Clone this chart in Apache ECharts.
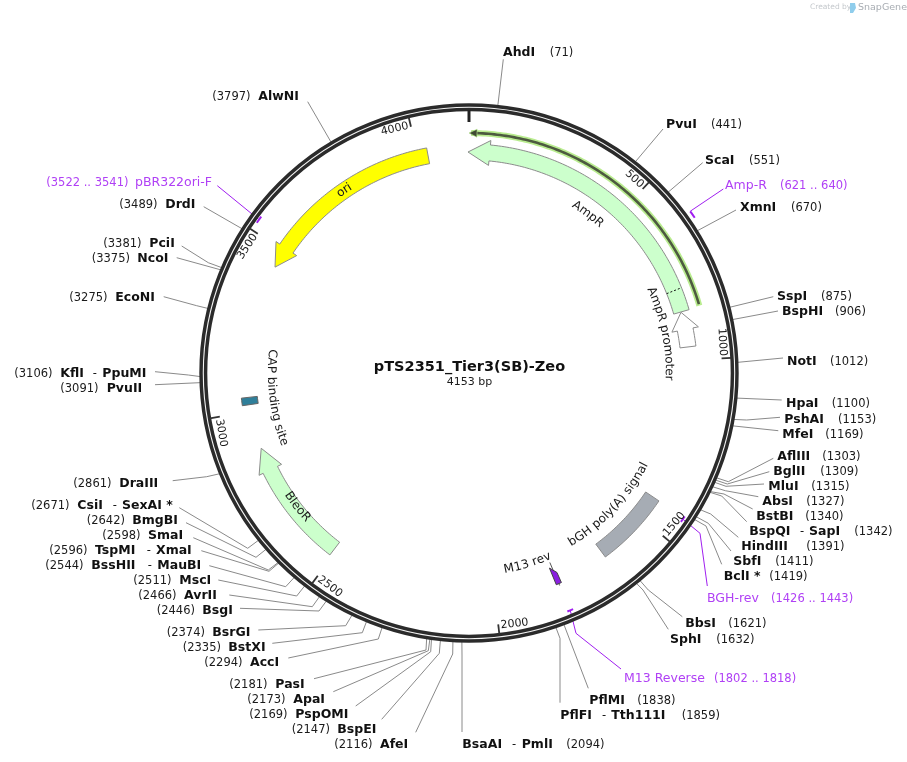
<!DOCTYPE html>
<html lang="en">
<head>
<meta charset="UTF-8">
<title>pTS2351_Tier3(SB)-Zeo</title>
<script src="https://cdn.jsdelivr.net/npm/echarts@6/dist/echarts.min.js"></script>
<style>html,body{margin:0;padding:0;background:#fff}</style>
</head>
<body>
<div id="map" style="width:907px;height:762px"></div>
<script>
const plasmidName = 'pTS2351_Tier3(SB)-Zeo';
const plasmidLength = 4153;
const tickPositions = [500, 1000, 1500, 2000, 2500, 3000, 3500, 4000];

// restriction sites
const siteNames = ['AhdI','PvuI','ScaI','XmnI','SspI','BspHI','NotI','HpaI','PshAI','MfeI','AflIII','BglII','MluI','AbsI','BstBI','BspQI','HindIII','SbfI','BclI *','BbsI','SphI','PflMI','PflFI','BsaAI','AfeI','BspEI','PspOMI','ApaI','PasI','AccI','BstXI','BsrGI','BsgI','AvrII','MscI','BssHII','TspMI','SmaI','BmgBI','CsiI','DraIII','PvuII','KflI','EcoNI','NcoI','PciI','DrdI','AlwNI'];
const sitePositions = [71,441,551,670,875,906,1012,1100,1153,1169,1303,1309,1315,1327,1340,1342,1391,1411,1419,1621,1632,1838,1859,2094,2116,2147,2169,2173,2181,2294,2335,2374,2446,2466,2511,2544,2596,2598,2642,2671,2861,3091,3106,3275,3375,3381,3489,3797];
const siteSecondNames = {BspQI:'SapI', PflFI:'Tth111I', BsaAI:'PmlI', BssHII:'MauBI', TspMI:'XmaI', CsiI:'SexAI *', KflI:'PpuMI'};

// primers
const primerNames = ['Amp-R','BGH-rev','M13 Reverse','pBR322ori-F'];
const primerStarts = [621,1426,1802,3522];
const primerEnds = [640,1443,1818,3541];

// directional features: tip is the arrow point, tail the far end
const arrowNames = ['AmpR','ori','BleoR'];
const arrowTips = [-3,3445,2885];
const arrowTails = [853,4030,2508];
const arrowHeads = [62,3510,2815];

const promoterTip = 854, promoterHead = 907, promoterTail = 960;
const orfTip = 0, orfTail = 850;
const ampDivider = 786;
const capSite = [3020,3042];
const polyASignal = [1430,1655];
const m13Rev = [1802,1818];

// label layout in pixels: nameX, numberX, y, leader end, optional elbow
const siteLayout = {
  'AhdI':[503,549.7,52,503.3,59.3],
  'PvuI':[666,711,124,663,129],
  'ScaI':[705,749,160,702.7,162.7],
  'XmnI':[740,791,207,736,210],
  'SspI':[777,821,296,773.3,296.7],
  'BspHI':[782,835,311,778,311],
  'NotI':[787,830,361,783,358],
  'HpaI':[786,831.7,403,781.7,400],
  'PshAI':[784.3,838,419,780,417.3,746.7,420],
  'MfeI':[782.3,825.3,434,778.3,430.7],
  'AflIII':[777.3,822.3,456,773.3,458.3,728.3,481.7],
  'BglII':[773.3,820.3,471,769.3,471.7,727.3,484],
  'MluI':[768.3,811.3,486,764,484,726,486.3],
  'AbsI':[762.3,806.3,501,758.3,496.7,725.3,490.7],
  'BstBI':[756.3,805.3,516,752.7,509,724,494],
  'BspQI':[749.3,854.3,531,746.7,521.7,721.7,496],
  'HindIII':[741.3,806.3,546,738.3,537.3,710.7,514],
  'SbfI':[733.3,775.3,561,731,551,708.3,523.3],
  'BclI *':[723.7,769.3,576,721.7,564.3,706,526],
  'BbsI':[685.3,728.3,623,682.3,616.7,648.3,590],
  'SphI':[670,716.3,639,668.3,629.3,643,590],
  'PflMI':[589.3,637.3,700,588.3,688.3],
  'PflFI':[560.3,681.7,715,560,702.7,560,638.3],
  'BsaAI':[462.3,566.3,744,462,732,462,655],
  'AfeI':[380,334.3,744,415.7,732.3,452.7,654],
  'BspEI':[337.3,291.7,729,381.7,719.3,439.3,653.3],
  'PspOMI':[295.3,249.3,714,355.7,706,430.7,651.7],
  'ApaI':[293.3,247.3,699,333.3,691.7,428.3,650.7],
  'PasI':[275.3,229.3,684,314,678.7,426,650],
  'AccI':[250,204.3,662,288.3,658,378.3,639],
  'BstXI':[228.3,182.7,647,272.3,643.3,362.3,632.7],
  'BsrGI':[212.3,166.7,632,258.3,630,345.7,625.7],
  'BsgI':[202.3,156.7,610,240,608.3,319,611],
  'AvrII':[184,138.3,595,229.3,595,312.3,606.7],
  'MscI':[179.3,133.3,580,218.3,580,296.7,596],
  'BssHII':[91.3,45.3,565,209.3,565.7,285.7,586.7],
  'TspMI':[95,49.3,550,201.3,550.7,269,571.3],
  'SmaI':[148,102.3,535,193.3,537.7,268.3,570],
  'BmgBI':[132.3,86.7,520,186,522.7,256,557.3],
  'CsiI':[77.3,31.3,505,179.3,507.7,247.7,548.3],
  'DraIII':[119.3,73.3,483,172.7,480.7,206.7,476.7],
  'PvuII':[106.7,60.3,388,155,384.7],
  'KflI':[60.3,14.3,373,155,371.7,188.3,375],
  'EcoNI':[115.3,69.3,297,163.7,296.7,196.7,305.7],
  'NcoI':[137.3,91.7,258,176.7,257.7],
  'PciI':[149.3,103.3,243,181.7,246,208.3,262.7],
  'DrdI':[165.3,119.3,204,203.7,206.7],
  'AlwNI':[258.3,212.3,96,307.7,101.7]
};
// dashX, secondNameX for the double names
const secondLayout = {BspQI:[800,809], PflFI:[602,611.3], BsaAI:[512,521.7], BssHII:[147.7,157.3], TspMI:[146.7,156], CsiI:[112.7,122], KflI:[92.7,102.3]};
// nameX, numberX, y, then leader points from the mark outwards
const primerLayout = {
  'Amp-R':[725,780,185,[[723.3,189]]],
  'BGH-rev':[707,771,598,[[700,533.3],[707.3,586]]],
  'M13 Reverse':[624,714,678,[[576,633.3],[621,669]]],
  'pBR322ori-F':[135,46.3,182,[[217.3,185.7]]]
};
const primerRadius = {'Amp-R':274,'BGH-rev':259,'M13 Reverse':258,'pBR322ori-F':260};

const FONT = '"DejaVu Sans"';
const INK = '#1a1a1a', LEADER = '#8a8a8a', PURPLE = '#a01ff0', PURPLE_TEXT = '#b040f5';
const FEATURE_EDGE = '#8c8c8c';
const R_MID = 221, R_BODY = 8, R_HEAD = 12.5;
const TEXT_NUDGE = 0.8;

function point(api, r, bp) {
  const c = api.coord([r, bp]);
  return [c[0], c[1]];
}
function arcPath(api, r, from, to) {
  const pts = [], n = Math.max(2, Math.ceil(Math.abs(to - from) / 8));
  for (let i = 0; i <= n; i++) pts.push(point(api, r, from + (to - from) * i / n));
  return pts;
}
function arrowShape(api, tip, head, tail, rMid, body, flare) {
  return [point(api, rMid, tip), point(api, rMid + flare, head)]
    .concat(arcPath(api, rMid + body, head, tail))
    .concat(arcPath(api, rMid - body, tail, head))
    .concat([point(api, rMid - flare, head)]);
}
function poly(pts, fill, stroke, width) {
  return {type:'polygon', shape:{points:pts}, style:{fill:fill, stroke:stroke, lineWidth:width === undefined ? 1 : width}};
}
function line(pts, stroke, width, dash) {
  return {type:'polyline', shape:{points:pts}, style:{fill:null, stroke:stroke, lineWidth:width, lineDash:dash}};
}
function text(str, x, y, font, fill, align, rotationDeg) {
  return {type:'text', x:x, y:y, rotation:-(rotationDeg || 0) * Math.PI / 180,
    style:{text:str, font:font, fill:fill, textAlign:align || 'left', textVerticalAlign:'middle'}};
}

const measure = document.createElement('canvas').getContext('2d');
// one text item per character so the label follows the arc like the original
function arcText(api, str, r, centerBp, font, clockwise) {
  measure.font = font;
  const total = measure.measureText(str).width;
  const toBp = plasmidLength / (2 * Math.PI * r);
  const out = [];
  let run = -total / 2;
  for (const ch of str) {
    const w = measure.measureText(ch).width;
    const off = (run + w / 2) * toBp;
    const bp = clockwise ? centerBp + off : centerBp - off;
    const p = point(api, r, bp);
    const deg = bp / plasmidLength * 360;
    out.push(text(ch, p[0], p[1], font, INK, 'center', clockwise ? deg : deg - 180));
    run += w;
  }
  return out;
}

function renderSite(params, api) {
  const name = siteNames[params.dataIndex];
  const bp = api.value(1);
  const lay = siteLayout[name];
  const pts = [point(api, 269, bp)];
  if (lay.length > 5) pts.push([lay[5], lay[6]]);
  pts.push([lay[3], lay[4]]);
  const kids = [line(pts, LEADER, 1)];
  const bold = 'bold 12.5px ' + FONT, thin = '11.5px ' + FONT;
  const y = lay[2] + TEXT_NUDGE;
  kids.push(text(name, lay[0], y, bold, '#111'));
  kids.push(text('(' + bp + ')', lay[1], y, thin, INK));
  if (siteSecondNames[name]) {
    const s = secondLayout[name];
    kids.push(text('-', s[0], y, thin, INK));
    kids.push(text(siteSecondNames[name], s[1], y, bold, '#111'));
  }
  return {type:'group', children:kids};
}

function renderPrimer(params, api) {
  const i = params.dataIndex, name = primerNames[i];
  const lay = primerLayout[name], r = primerRadius[name];
  const start = api.value(1), end = primerEnds[i];
  const font = '12.5px ' + FONT;
  const anchor = name === 'Amp-R' ? start : (start + end) / 2;
  const y = lay[2] + TEXT_NUDGE;
  return {type:'group', children:[
    line([point(api, r, anchor)].concat(lay[3]), PURPLE, 1),
    line(arcPath(api, r, start, end), PURPLE, 2),
    text(name, lay[0], y, font, PURPLE_TEXT),
    text('(' + start + ' .. ' + end + ')', lay[1], y, '11.5px ' + FONT, PURPLE_TEXT)
  ]};
}

function renderBackbone(params, api) {
  const c = point(api, 0, 0);
  const kids = [
    {type:'circle', shape:{cx:c[0], cy:c[1], r:265.7}, style:{fill:null, stroke:'#2b2b2b', lineWidth:8}},
    {type:'circle', shape:{cx:c[0], cy:c[1], r:265.7}, style:{fill:null, stroke:'#f4f4f4', lineWidth:1.1}},
    line([point(api, 263, 0), point(api, 251, 0)], '#222', 3),
    text(plasmidName, 469.5, 367.5, 'bold 14.5px ' + FONT, '#111', 'center'),
    text(plasmidLength + ' bp', 469.5, 382, '11px ' + FONT, INK, 'center')
  ];
  tickPositions.forEach(function (bp) {
    const p = point(api, 253, bp), deg = bp / plasmidLength * 360;
    kids.push(line([point(api, 263, bp), p], '#333', 1.8));
    const upright = deg <= 90 || deg > 270;
    // label always runs off on the low-bp side of its tick
    const a = point(api, 254.5, bp - 6);
    kids.push(text(String(bp), a[0], a[1], '11px ' + FONT, INK, upright ? 'right' : 'left', upright ? deg : deg - 180));
  });
  return {type:'group', children:kids};
}

function renderFeatures(params, api) {
  const kids = [];
  const fills = {AmpR:'#ccffcc', ori:'#ffff00', BleoR:'#ccffcc'};
  arrowNames.forEach(function (n, i) {
    kids.push(poly(arrowShape(api, arrowTips[i], arrowHeads[i], arrowTails[i], R_MID, R_BODY, R_HEAD), fills[n], FEATURE_EDGE));
  });
  // divider between the two AmpR parts
  kids.push(line([point(api, R_MID - R_BODY, ampDivider), point(api, R_MID + R_BODY, ampDivider)], '#111', 1, [2, 2]));
  // AmpR promoter
  kids.push(poly(arrowShape(api, promoterTip, promoterHead, promoterTail, R_MID - 0.5, R_BODY, R_HEAD + 1), '#fff', FEATURE_EDGE));
  // highlighted ORF line
  kids.push(line(arcPath(api, 240, orfTip + 6, orfTail), '#b9ec8f', 6));
  kids.push(line(arcPath(api, 240, orfTip + 6, orfTail - 4), '#4d5a40', 2.6));
  kids.push(poly([point(api, 240, orfTip), point(api, 244, orfTip + 22), point(api, 236, orfTip + 22)], '#3f4a33', '#b9ec8f', 0.6));
  // CAP binding site and polyA signal
  kids.push(poly(arcPath(api, R_MID + R_BODY, capSite[0], capSite[1]).concat(arcPath(api, R_MID - R_BODY, capSite[1], capSite[0])), '#2f7f9a', '#666'));
  kids.push(poly(arcPath(api, R_MID + R_BODY, polyASignal[0], polyASignal[1]).concat(arcPath(api, R_MID - R_BODY, polyASignal[1], polyASignal[0])), '#a6acb4', '#8c8c8c'));
  // M13 rev
  const mMid = (m13Rev[0] + m13Rev[1]) / 2;
  kids.push(line([point(api, 231, mMid), point(api, 206, mMid)], '#555', 1));
  kids.push(poly([point(api, 211, m13Rev[1]), point(api, 218, m13Rev[0]), point(api, 229, m13Rev[0]), point(api, 229, m13Rev[1])], '#8a1fe0', '#444'));
  // labels on the arc
  const f = '12px ' + FONT;
  [['AmpR',198.6,425,true],['AmpR promoter',200,905,true],['ori',221,3757,true],
   ['BleoR',218,2677,false],['CAP binding site',198,3031,false],
   ['bGH poly(A) signal',198,1538,false],['M13 rev',200,1880,false]].forEach(function (a) {
    Array.prototype.push.apply(kids, arcText(api, a[0], a[1], a[2], f, a[3]));
  });
  return {type:'group', children:kids};
}

function customSeries(data, render, z) {
  return {type:'custom', coordinateSystem:'polar', data:data, renderItem:render, z:z, silent:true, clip:false,
    animation:false, encode:{radius:0, angle:1}};
}

const chart = echarts.init(document.getElementById('map'), null, {renderer:'canvas'});
chart.setOption({
  animation:false,
  backgroundColor:'#fff',
  tooltip:{show:false},
  polar:{center:[469,373], radius:300},
  radiusAxis:{min:0, max:300, show:false},
  angleAxis:{min:0, max:plasmidLength, startAngle:90, clockwise:true, show:false},
  graphic:[
    {type:'text', x:810, y:3.5, style:{text:'Created by', font:'7.5px ' + FONT, fill:'#c4c8cc'}},
    {type:'polygon', shape:{points:[[850,3],[855,3],[856,8],[853,13],[850,13]]}, style:{fill:'#8fcdec'}},
    {type:'text', x:858, y:2.5, style:{text:'SnapGene', font:'9.5px ' + FONT, fill:'#a8adb3'}}
  ],
  series:[
    customSeries(sitePositions.map(function (p) { return [269, p]; }), renderSite, 1),
    customSeries(primerStarts.map(function (p) { return [260, p]; }), renderPrimer, 2),
    customSeries([[269, 0]], renderBackbone, 3),
    customSeries([[221, 0]], renderFeatures, 4)
  ]
});
</script>
</body>
</html>
